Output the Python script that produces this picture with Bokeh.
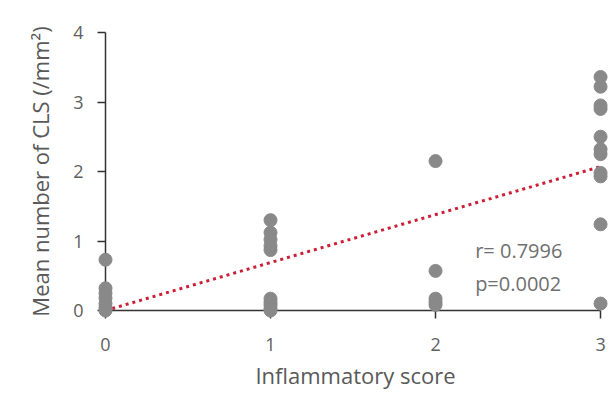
from bokeh.plotting import figure
from bokeh.models import ColumnDataSource, FixedTicker, Range1d
from bokeh.core.properties import value
from bokeh.embed import file_html
from bokeh.resources import INLINE

# Data
score_0 = [0.73, 0.32, 0.25, 0.18, 0.10, 0.04, 0.0]
score_1 = [1.30, 1.12, 1.02, 0.93, 0.87, 0.17, 0.12, 0.08, 0.03, 0.0]
score_2 = [2.15, 0.57, 0.17, 0.12, 0.08]
score_3 = [3.36, 3.22, 2.95, 2.90, 2.50, 2.32, 2.25, 1.98, 1.93, 1.24, 0.10]
groups = [0, 1, 2, 3]
trend_x = [0, 3]
trend_y = [0.0, 2.07]
stats_text = ["r= 0.7996", "p=0.0002"]
stats_x = [2.24, 2.24]
stats_y = [0.86, 0.39]
x_ticks = [0, 1, 2, 3]
y_ticks = [0, 1, 2, 3, 4]

xs, ys = [], []
for g, vals in zip(groups, [score_0, score_1, score_2, score_3]):
    xs += [g] * len(vals)
    ys += vals
pts = ColumnDataSource(dict(x=xs, y=ys))

FONT = "Open Sans"

p = figure(frame_width=500, frame_height=278, min_border_left=105, min_border_top=32,
           min_border_right=8, min_border_bottom=72,
           x_range=Range1d(0, 3.03), y_range=Range1d(0, 4.0),
           output_backend="svg", toolbar_location=None)
p.outline_line_color = None
p.xgrid.visible = False
p.ygrid.visible = False
p.background_fill_color = "white"
p.border_fill_color = "white"

p.line(trend_x, trend_y, line_color="#cc1f36", line_width=3, line_dash="3 4")
p.scatter("x", "y", source=pts, size=13, fill_color="#898989", line_color="#898989",
          level="overlay")

p.text(x=stats_x, y=stats_y, text=stats_text, text_font=value(FONT), text_font_size="20px",
       text_color="#707070", text_baseline="middle", text_align="left")

for ax, ticks, bnds in ((p.xaxis[0], x_ticks, (0, 3)), (p.yaxis[0], y_ticks, (0, 4))):
    ax.ticker = FixedTicker(ticks=ticks)
    ax.bounds = bnds
    ax.axis_line_color = "#333333"
    ax.axis_line_width = 1.5
    ax.major_tick_line_color = "#333333"
    ax.major_tick_line_width = 1.5
    ax.major_tick_in = 0
    ax.major_tick_out = 8
    ax.minor_tick_line_color = None
    ax.major_label_text_font = FONT
    ax.major_label_text_font_size = "18px"
    ax.major_label_text_color = "#606060"
    ax.axis_label_text_font = FONT
    ax.axis_label_text_font_size = "22px"
    ax.axis_label_text_font_style = "normal"
    ax.axis_label_text_color = "#595959"

p.xaxis[0].axis_label = "Inflammatory score"
p.yaxis[0].axis_label = "Mean number of CLS (/mm²)"
p.xaxis[0].major_label_standoff = 19
p.yaxis[0].major_label_standoff = 14
p.xaxis[0].axis_label_standoff = 6
p.yaxis[0].axis_label_standoff = 15

open("out.html", "w").write(file_html(p, INLINE))
